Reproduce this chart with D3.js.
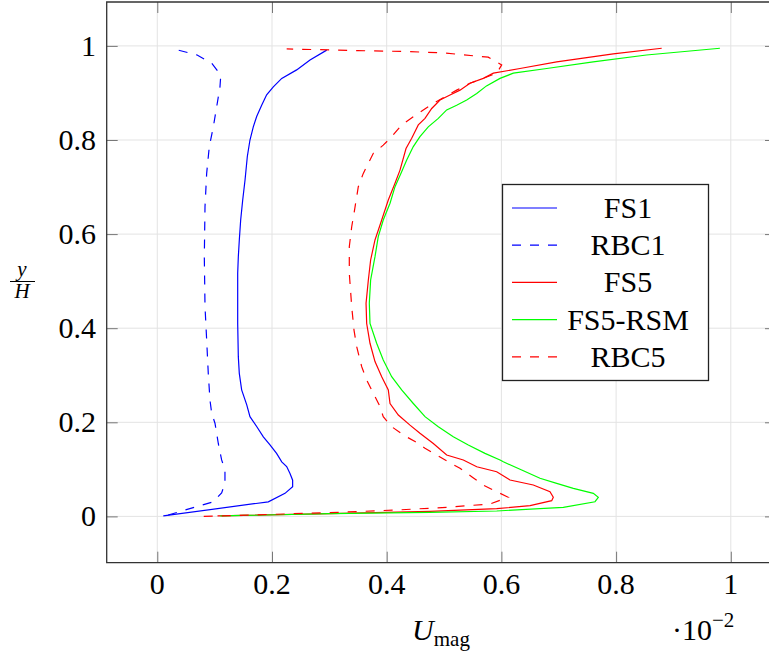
<!DOCTYPE html>
<html>
<head>
<meta charset="utf-8">
<script src="https://cdn.jsdelivr.net/npm/d3@7"></script>
<style>
  html, body { margin: 0; padding: 0; background: #fff; }
  svg { display: block; }
</style>
</head>
<body>
<svg id="chart" width="769" height="653"></svg>
<script>
// ---------- data (U_mag ×10^-2 vs y/H) ----------
const seriesNames = ["FS1", "RBC1", "FS5", "FS5-RSM", "RBC5"];
const xTicks = [0, 0.2, 0.4, 0.6, 0.8, 1];
const yTicks = [0, 0.2, 0.4, 0.6, 0.8, 1];

const fs1Y = [0.001,0.031,0.049,0.063,0.077,0.091,0.106,0.116,0.134,0.152,0.169,0.191,0.212,0.237,0.269,0.304,0.339,0.41,0.517,0.552,0.587,0.63,0.672,0.715,0.765,0.8,0.828,0.85,0.874,0.896,0.913,0.931,0.949,0.97,0.991];
const fs1U = [0.0105,0.1936,0.2227,0.236,0.236,0.2314,0.2256,0.217,0.208,0.1965,0.1849,0.1733,0.1616,0.156,0.1471,0.143,0.1413,0.1402,0.1402,0.1413,0.143,0.1454,0.1489,0.153,0.157,0.1616,0.1674,0.1733,0.182,0.1907,0.2023,0.217,0.243,0.2663,0.2954];

const rbc1Y = [0.003,0.031,0.05,0.07,0.099,0.12,0.155,0.198,0.219,0.247,0.304,0.375,0.446,0.552,0.658,0.729,0.786,0.828,0.871,0.913,0.934,0.945,0.963,0.981,0.991];
const rbc1U = [0.019,0.0977,0.1122,0.118,0.118,0.1122,0.1064,0.1006,0.0949,0.0919,0.0889,0.0861,0.0832,0.082,0.0832,0.0861,0.0907,0.0977,0.1036,0.1093,0.1105,0.1064,0.0949,0.0687,0.0366];

const fs5Y = [0.001,0.006,0.0108,0.0164,0.0228,0.0334,0.0406,0.0525,0.0667,0.0774,0.095,0.1056,0.12,0.1305,0.155,0.1766,0.194,0.2155,0.24,0.2687,0.297,0.329,0.368,0.41,0.453,0.5025,0.545,0.5875,0.63,0.6725,0.708,0.736,0.782,0.8036,0.832,0.846,0.867,0.885,0.8957,0.906,0.9205,0.931,0.942,0.952,0.966,0.983,0.995];
const fs5U = [0.105,0.301,0.4755,0.5918,0.65,0.6877,0.6905,0.6847,0.6556,0.615,0.5918,0.557,0.5336,0.5046,0.4813,0.458,0.4406,0.4203,0.4058,0.4028,0.3913,0.3796,0.3709,0.3651,0.364,0.368,0.372,0.3796,0.3913,0.4028,0.4145,0.4232,0.4337,0.4436,0.4551,0.4668,0.4785,0.493,0.5104,0.5278,0.5452,0.5684,0.586,0.6324,0.6964,0.795,0.8795];

const rsmY = [0.001,0.0057,0.0087,0.0115,0.0193,0.0312,0.0406,0.049,0.0597,0.0703,0.081,0.0986,0.116,0.12,0.134,0.1518,0.1694,0.1907,0.212,0.24,0.2687,0.297,0.3324,0.368,0.41,0.453,0.5025,0.552,0.5945,0.63,0.6655,0.7008,0.7326,0.7575,0.786,0.807,0.828,0.846,0.864,0.874,0.885,0.899,0.915,0.931,0.942,0.952,0.966,0.9806,0.995];
const rsmU = [0.11,0.3011,0.4755,0.5918,0.708,0.7632,0.769,0.7603,0.7254,0.6964,0.6673,0.6354,0.6033,0.5976,0.5714,0.5423,0.5161,0.49,0.4668,0.4464,0.4261,0.4087,0.394,0.3825,0.3709,0.3697,0.372,0.3796,0.3853,0.394,0.4058,0.4145,0.4261,0.4349,0.4464,0.458,0.4725,0.49,0.5046,0.522,0.5395,0.557,0.574,0.5976,0.6208,0.679,0.76,0.853,0.981];

const rbc5Y = [0.0,0.008,0.0136,0.0193,0.0264,0.0406,0.0525,0.0667,0.0844,0.1022,0.116,0.1305,0.1447,0.159,0.173,0.1907,0.212,0.237,0.2616,0.29,0.3182,0.3607,0.396,0.4457,0.5167,0.5733,0.6157,0.644,0.7008,0.729,0.7505,0.7717,0.789,0.807,0.832,0.8495,0.8638,0.878,0.892,0.906,0.9205,0.931,0.942,0.9596,0.976,0.985,0.988,0.99,0.9936];
const rbc5U = [0.081,0.301,0.4174,0.5046,0.58,0.612,0.5918,0.5684,0.5482,0.5278,0.5075,0.4872,0.4668,0.4494,0.429,0.4087,0.394,0.387,0.3767,0.3651,0.3564,0.3477,0.343,0.339,0.3348,0.3348,0.339,0.343,0.3505,0.3592,0.368,0.3767,0.394,0.4087,0.4261,0.4464,0.4638,0.4813,0.5017,0.522,0.5452,0.5684,0.5918,0.6005,0.577,0.5,0.435,0.35,0.2256];

const seriesColors = ["#0000ff", "#0000ff", "#ff0000", "#00ff00", "#ff0000"];
const seriesDashed = [false, true, false, false, true];

// ---------- build ----------
const FONT = "'Liberation Serif', 'Times New Roman', Tinos, 'DejaVu Serif', serif";
const seriesData = [
  d3.zip(fs1U, fs1Y), d3.zip(rbc1U, rbc1Y), d3.zip(fs5U, fs5Y),
  d3.zip(rsmU, rsmY), d3.zip(rbc5U, rbc5Y)
];

const svg = d3.select("#chart").attr("font-family", FONT);
const L = 106.7, R = 776, T = 2, B = 562.7;

const x = d3.scaleLinear().domain([-0.0882, 1.0788]).range([L, R]);
const y = d3.scaleLinear().domain([-0.0984, 1.0933]).range([B, T]);

// grid
const grid = svg.append("g");
grid.selectAll("line.vx").data(xTicks).join("line")
  .attr("x1", d => x(d)).attr("x2", d => x(d)).attr("y1", T).attr("y2", B)
  .attr("stroke", "#e3e3e3").attr("stroke-width", 1);
grid.selectAll("line.hy").data(yTicks).join("line")
  .attr("y1", d => y(d)).attr("y2", d => y(d)).attr("x1", L).attr("x2", R)
  .attr("stroke", "#e3e3e3").attr("stroke-width", 1);

// ticks (inward, all four sides) using d3 axes
const tickLen = 11;
const fmt = d => d === 0 ? "0" : d === 1 ? "1" : d3.format(".1f")(d);

const axB = svg.append("g").attr("transform", `translate(0,${B})`)
  .call(d3.axisTop(x).tickValues(xTicks).tickSize(tickLen).tickFormat(""));
const axT = svg.append("g").attr("transform", `translate(0,${T})`)
  .call(d3.axisBottom(x).tickValues(xTicks).tickSize(tickLen).tickFormat(""));
const axL = svg.append("g").attr("transform", `translate(${L},0)`)
  .call(d3.axisRight(y).tickValues(yTicks).tickSize(tickLen).tickFormat(""));
const axR = svg.append("g").attr("transform", `translate(${R},0)`)
  .call(d3.axisLeft(y).tickValues(yTicks).tickSize(tickLen).tickFormat(""));
[axB, axT, axL, axR].forEach(a => {
  a.select(".domain").remove();
  a.selectAll(".tick line").attr("stroke", "#777").attr("stroke-width", 1);
});

// tick labels
svg.append("g").selectAll("text").data(xTicks).join("text")
  .attr("x", d => x(d)).attr("y", 594).attr("font-family", FONT)
  .attr("text-anchor", "middle").attr("font-size", 30).text(fmt);
svg.append("g").selectAll("text").data(yTicks).join("text")
  .attr("x", 96).attr("y", d => y(d) + 10).attr("font-family", FONT)
  .attr("text-anchor", "end").attr("font-size", 30).text(fmt);

// data
svg.append("clipPath").attr("id", "plotclip")
  .append("rect").attr("x", L).attr("y", T).attr("width", R - L).attr("height", B - T);
const line = d3.line().x(d => x(d[0])).y(d => y(d[1]));
const gData = svg.append("g").attr("clip-path", "url(#plotclip)");
gData.selectAll("path").data(seriesData).join("path")
  .attr("d", line)
  .attr("fill", "none")
  .attr("stroke", (d, i) => seriesColors[i])
  .attr("stroke-width", 1.2)
  .attr("stroke-dasharray", (d, i) => seriesDashed[i] ? "9,9" : null);

// frame
svg.append("path")
  .attr("d", `M${R},${T}H${L}V${B}H${R}`)
  .attr("fill", "none").attr("stroke", "#333").attr("stroke-width", 1.3);

// axis labels
const xl = svg.append("text").attr("x", 441).attr("y", 640).attr("text-anchor", "middle")
  .attr("font-size", 30).attr("font-family", FONT);
xl.append("tspan").attr("font-style", "italic").text("U");
xl.append("tspan").attr("font-size", 21).attr("dy", 6).text("mag");

const mult = svg.append("text").attr("x", 672).attr("y", 640).attr("font-size", 30).attr("font-family", FONT);
mult.append("tspan").text("·10");
mult.append("tspan").attr("font-size", 21).attr("dy", -13).text("−2");

// y label as fraction y/H
svg.append("text").attr("x", 22).attr("y", 276).attr("text-anchor", "middle").attr("font-family", FONT)
  .attr("font-size", 21).attr("font-style", "italic").text("y");
svg.append("line").attr("x1", 10).attr("x2", 35).attr("y1", 281.5).attr("y2", 281.5)
  .attr("stroke", "#000").attr("stroke-width", 1);
svg.append("text").attr("x", 22).attr("y", 298).attr("text-anchor", "middle").attr("font-family", FONT)
  .attr("font-size", 21).attr("font-style", "italic").text("H");

// legend
const lg = svg.append("g");
lg.append("rect").attr("x", 502.5).attr("y", 184.5).attr("width", 206).attr("height", 196)
  .attr("fill", "#fff").attr("stroke", "#222").attr("stroke-width", 1.3);
const ly0 = 208, ldy = 37.2;
seriesNames.forEach((name, i) => {
  const yy = ly0 + i * ldy;
  lg.append("line").attr("x1", 512).attr("x2", 557).attr("y1", yy).attr("y2", yy)
    .attr("stroke", seriesColors[i]).attr("stroke-width", 1.2)
    .attr("stroke-dasharray", seriesDashed[i] ? "9,9" : null);
  lg.append("text").attr("x", 628).attr("y", yy + 10).attr("text-anchor", "middle")
    .attr("font-family", FONT).attr("font-size", 30).text(name);
});
</script>
</body>
</html>
